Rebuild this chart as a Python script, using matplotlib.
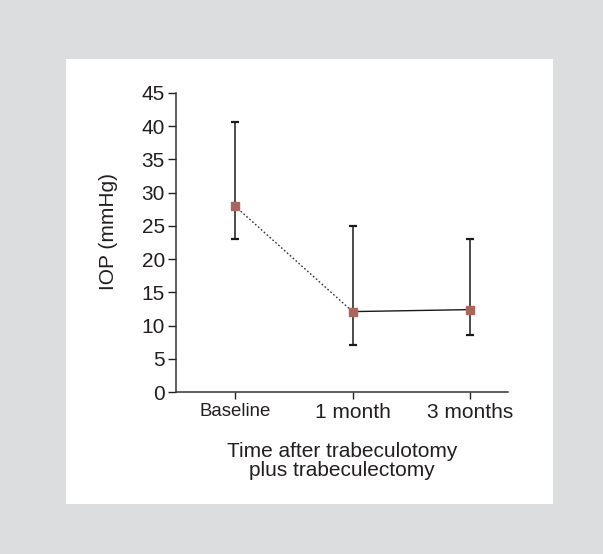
import matplotlib
matplotlib.use("Agg")
import matplotlib.pyplot as plt
from matplotlib.patches import Rectangle

# values
timepoints = ["Baseline", "1 month", "3 months"]
iop_mean = [28.0, 12.1, 12.4]
iop_low = [23.1, 7.1, 8.6]
iop_high = [40.6, 25.0, 23.0]

TEXT = "#231f20"
MARKER = "#a8675a"

plt.rcParams["font.family"] = ["Liberation Sans", "DejaVu Sans"]

fig = plt.figure(figsize=(6.03, 5.54), dpi=100)
fig.patch.set_facecolor("#dcdddf")
fig.add_artist(Rectangle((66 / 603, 1 - 504 / 554), (553 - 66) / 603, (504 - 59) / 554,
                         transform=fig.transFigure, facecolor="white",
                         edgecolor="none", zorder=-5))

ax = fig.add_axes([176 / 603, 1 - 392 / 554, (508 - 176) / 603, (392 - 93) / 554])
ax.set_facecolor("none")
ax.set_zorder(5)

x = list(range(len(timepoints)))
yerr = [[m - lo for m, lo in zip(iop_mean, iop_low)],
        [hi - m for m, hi in zip(iop_mean, iop_high)]]
ax.errorbar(x, iop_mean, yerr=yerr, fmt="none", ecolor="#1a1a1a",
            elinewidth=1.1, capsize=3.2, capthick=1.6, zorder=2)
ax.plot(x[:2], iop_mean[:2], color="#333333", lw=1.0, ls=(0, (1.2, 1.6)), zorder=3)
ax.plot(x[1:], iop_mean[1:], color="#1a1a1a", lw=1.0, zorder=3)
ax.plot(x, iop_mean, ls="none", marker="s", ms=6, color=MARKER, zorder=4)

ax.set_xlim(-0.5, 2.32)
ax.set_ylim(0, 45)
ax.set_yticks(range(0, 46, 5))
ax.set_xticks(x)
ax.set_xticklabels(timepoints)
for lbl in ax.get_xticklabels():
    lbl.set_fontsize(13.4 if lbl.get_text() == "Baseline" else 15)
ax.tick_params(axis="y", labelsize=15, length=6, width=1, colors=TEXT, pad=2)
ax.tick_params(axis="x", length=5, width=1, colors=TEXT, pad=3)

for side in ("top", "right"):
    ax.spines[side].set_visible(False)
for side in ("left", "bottom"):
    ax.spines[side].set_color("#333333")
    ax.spines[side].set_linewidth(1.1)

ax.set_ylabel("IOP (mmHg)", fontsize=15, color=TEXT)
ax.yaxis.set_label_coords(-0.175, 0.538)
ax.set_xlabel("Time after trabeculotomy\nplus trabeculectomy", fontsize=15,
              color=TEXT, labelpad=14, linespacing=1.05)

fig.savefig("out.png", dpi=100, facecolor=fig.get_facecolor())
